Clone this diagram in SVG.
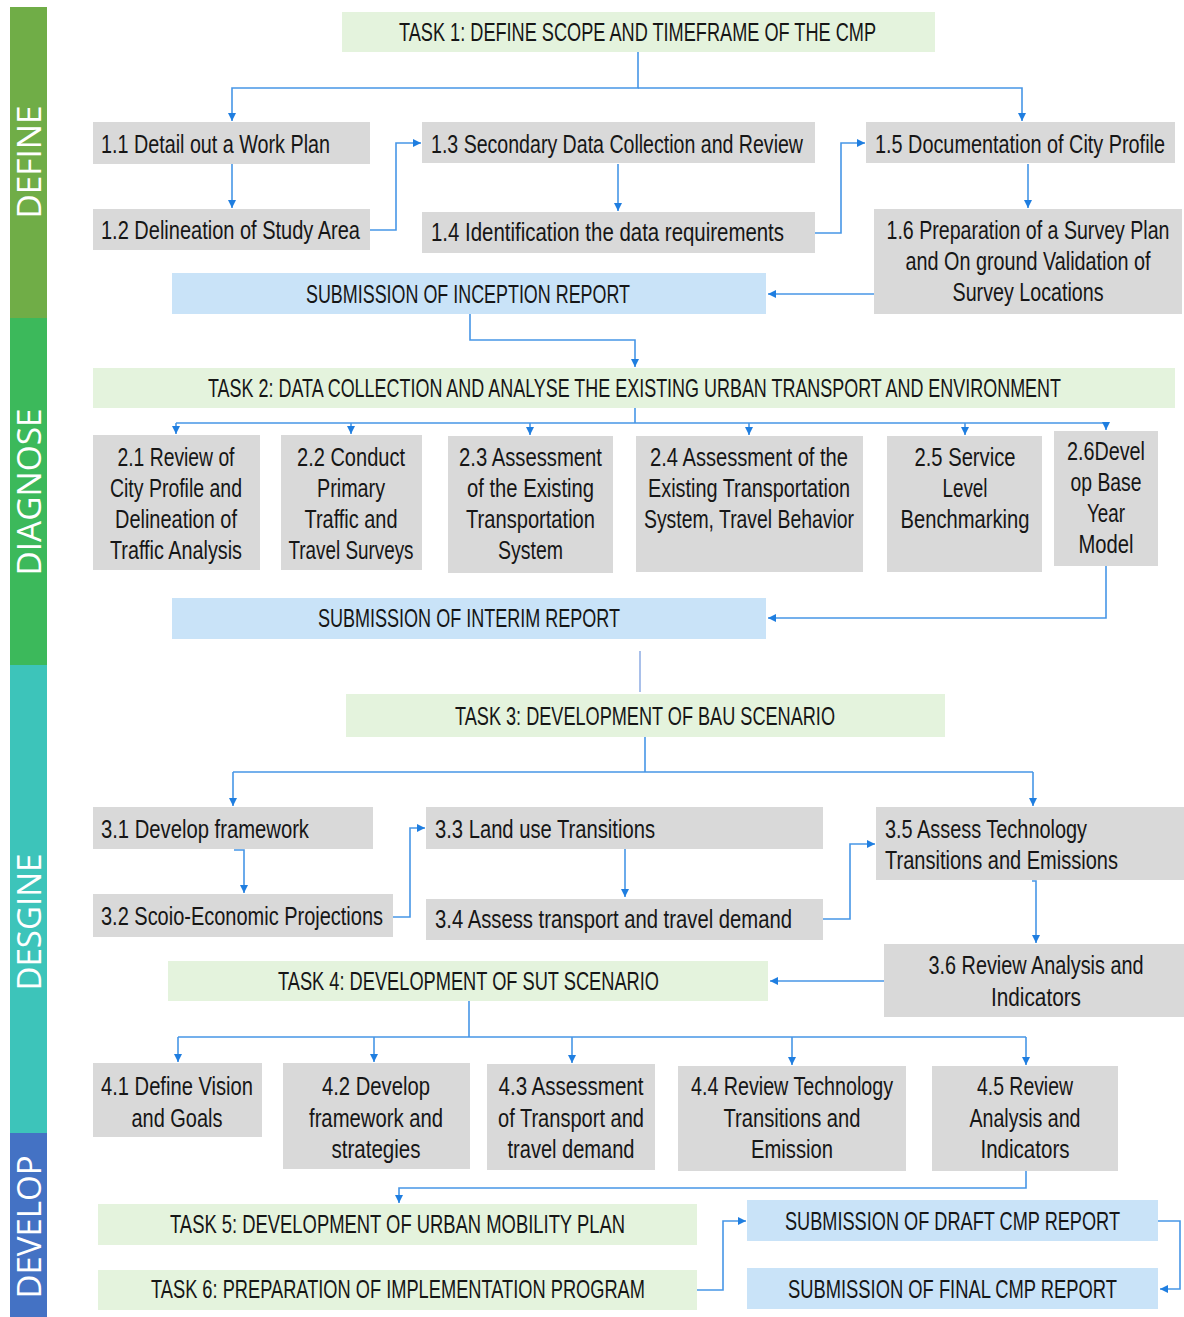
<svg xmlns="http://www.w3.org/2000/svg" width="1184" height="1317" viewBox="0 0 1184 1317">
  <defs>
    <marker id="arr" markerUnits="userSpaceOnUse" markerWidth="9" markerHeight="9" refX="8" refY="4.5" orient="auto">
      <path d="M0,0.5 L8,4.5 L0,8.5 z" fill="#1f7ee0"/>
    </marker>
    <style>
      .g { fill: #d9d9d9; }
      .t { fill: #e4f3dd; }
      .s { fill: #c9e3f8; }
      text { font-family: "Liberation Sans", Arial, sans-serif; font-size: 25px; fill: #161616; }
      .c { text-anchor: middle; }
      .band text { font-family: "Open Sans", "DejaVu Sans", sans-serif; font-size: 33px; fill: #ffffff; text-anchor: middle; }
      .ln { fill: none; stroke: #4796e6; stroke-width: 1.6; }
      .ln.a { marker-end: url(#arr); }
      .ln.soft { stroke: #a9c0ea; stroke-width: 2; }
    </style>
  </defs>

  <rect width="1184" height="1317" fill="#ffffff"/>

  <!-- phase bands -->
  <g class="band" id="phases">
    <rect x="10" y="7" width="37" height="311" fill="#70ad47"/>
    <rect x="10" y="318" width="37" height="347" fill="#3cb95b"/>
    <rect x="10" y="665" width="37" height="468" fill="#3dc4ba"/>
    <rect x="10" y="1133" width="37" height="184" fill="#4472c4"/>
    <text transform="translate(41,162) rotate(-90)" textLength="113" lengthAdjust="spacingAndGlyphs">DEFINE</text>
    <text transform="translate(41,492) rotate(-90)" textLength="167" lengthAdjust="spacingAndGlyphs">DIAGNOSE</text>
    <text transform="translate(41,922) rotate(-90)" textLength="137" lengthAdjust="spacingAndGlyphs">DESGINE</text>
    <text transform="translate(41,1227) rotate(-90)" textLength="143" lengthAdjust="spacingAndGlyphs">DEVELOP</text>
  </g>

  <!-- connectors -->
  <g id="connectors">
    <path class="ln a" d="M638,52 V88 H232 V121"/>
    <path class="ln a" d="M638,88 H1022 V121"/>
    <path class="ln a" d="M232,164 V208"/>
    <path class="ln a" d="M370,230 H396 V143 H421"/>
    <path class="ln a" d="M618,164 V211"/>
    <path class="ln a" d="M815,233 H841 V143 H865"/>
    <path class="ln a" d="M1028,164 V208"/>
    <path class="ln a" d="M874,294 H768"/>
    <path class="ln a" d="M470,314 V340 H635 V367"/>

    <path class="ln" d="M635,408 V423 M176,423 H1106"/>
    <path class="ln a" d="M176,423 V434"/>
    <path class="ln a" d="M351,423 V434"/>
    <path class="ln a" d="M530,423 V435"/>
    <path class="ln a" d="M749,423 V435"/>
    <path class="ln a" d="M965,423 V435"/>
    <path class="ln a" d="M1106,423 V430"/>
    <path class="ln a" d="M1106,566 V618 H768"/>
    <path class="ln soft" d="M640,651 V692"/>

    <path class="ln" d="M645,737 V772 M233,772 H1033"/>
    <path class="ln a" d="M233,772 V806"/>
    <path class="ln a" d="M1033,772 V806"/>
    <path class="ln a" d="M234,850 H244 V893"/>
    <path class="ln a" d="M393,917 H410 V828 H425"/>
    <path class="ln a" d="M625,849 V897"/>
    <path class="ln a" d="M823,919 H850 V844 H875"/>
    <path class="ln a" d="M1032,881 H1036 V943"/>
    <path class="ln a" d="M884,981 H770"/>

    <path class="ln" d="M469,1001 V1037 M178,1037 H1026"/>
    <path class="ln a" d="M178,1037 V1062"/>
    <path class="ln a" d="M374,1037 V1062"/>
    <path class="ln a" d="M572,1037 V1063"/>
    <path class="ln a" d="M792,1037 V1065"/>
    <path class="ln a" d="M1026,1037 V1065"/>
    <path class="ln a" d="M1026,1171 V1188 H399 V1203"/>
    <path class="ln a" d="M697,1290 H723 V1221 H746"/>
    <path class="ln a" d="M1158,1221 H1180 V1289 H1160"/>
  </g>

  <!-- labels use a 0.72 horizontal squeeze: x and textLength below are in the squeezed frame -->

  <!-- task 1 -->
  <g id="task1">
    <rect class="t" x="342" y="12" width="593" height="40"/>
    <text class="c" transform="scale(0.72,1)" x="885.42" y="41" textLength="662.5" lengthAdjust="spacingAndGlyphs">TASK 1: DEFINE SCOPE AND TIMEFRAME OF THE CMP</text>
  </g>
  <g id="n1-1">
    <rect class="g" x="93" y="122" width="277" height="42"/>
    <text transform="scale(0.72,1)" x="140.28" y="153" textLength="318.06" lengthAdjust="spacingAndGlyphs">1.1 Detail out a Work Plan</text>
  </g>
  <g id="n1-2">
    <rect class="g" x="93" y="209" width="277" height="41"/>
    <text transform="scale(0.72,1)" x="140.28" y="239" textLength="359.72" lengthAdjust="spacingAndGlyphs">1.2 Delineation of Study Area</text>
  </g>
  <g id="n1-3">
    <rect class="g" x="422" y="122" width="393" height="41"/>
    <text transform="scale(0.72,1)" x="598.61" y="153" textLength="516.67" lengthAdjust="spacingAndGlyphs">1.3 Secondary Data Collection and Review</text>
  </g>
  <g id="n1-4">
    <rect class="g" x="422" y="212" width="393" height="41"/>
    <text transform="scale(0.72,1)" x="598.61" y="241" textLength="490.28" lengthAdjust="spacingAndGlyphs">1.4 Identification the data requirements</text>
  </g>
  <g id="n1-5">
    <rect class="g" x="866" y="122" width="309" height="41"/>
    <text transform="scale(0.72,1)" x="1215.28" y="153" textLength="402.78" lengthAdjust="spacingAndGlyphs">1.5 Documentation of City Profile</text>
  </g>
  <g id="n1-6">
    <rect class="g" x="874" y="209" width="308" height="105"/>
    <text class="c" transform="scale(0.72,1)" x="1427.78" y="239" textLength="393.06" lengthAdjust="spacingAndGlyphs">1.6 Preparation of a Survey Plan</text>
    <text class="c" transform="scale(0.72,1)" x="1427.78" y="270" textLength="340.28" lengthAdjust="spacingAndGlyphs">and On ground Validation of</text>
    <text class="c" transform="scale(0.72,1)" x="1427.78" y="301" textLength="209.72" lengthAdjust="spacingAndGlyphs">Survey Locations</text>
  </g>
  <g id="inception">
    <rect class="s" x="172" y="273" width="594" height="41"/>
    <text class="c" transform="scale(0.72,1)" x="650" y="303" textLength="450" lengthAdjust="spacingAndGlyphs">SUBMISSION OF INCEPTION REPORT</text>
  </g>

  <!-- task 2 -->
  <g id="task2">
    <rect class="t" x="93" y="368" width="1082" height="40"/>
    <text class="c" transform="scale(0.72,1)" x="881.25" y="397" textLength="1184.72" lengthAdjust="spacingAndGlyphs">TASK 2: DATA COLLECTION AND ANALYSE THE EXISTING URBAN TRANSPORT AND ENVIRONMENT</text>
  </g>
  <g id="n2-1">
    <rect class="g" x="93" y="435" width="167" height="135"/>
    <text class="c" transform="scale(0.72,1)" x="244.44" y="466" textLength="162.5" lengthAdjust="spacingAndGlyphs">2.1 Review of</text>
    <text class="c" transform="scale(0.72,1)" x="244.44" y="497" textLength="183.33" lengthAdjust="spacingAndGlyphs">City Profile and</text>
    <text class="c" transform="scale(0.72,1)" x="244.44" y="528" textLength="169.44" lengthAdjust="spacingAndGlyphs">Delineation of</text>
    <text class="c" transform="scale(0.72,1)" x="244.44" y="559" textLength="183.33" lengthAdjust="spacingAndGlyphs">Traffic Analysis</text>
  </g>
  <g id="n2-2">
    <rect class="g" x="281" y="435" width="141" height="135"/>
    <text class="c" transform="scale(0.72,1)" x="487.5" y="466" textLength="150" lengthAdjust="spacingAndGlyphs">2.2 Conduct</text>
    <text class="c" transform="scale(0.72,1)" x="487.5" y="497" textLength="94.44" lengthAdjust="spacingAndGlyphs">Primary</text>
    <text class="c" transform="scale(0.72,1)" x="487.5" y="528" textLength="129.17" lengthAdjust="spacingAndGlyphs">Traffic and</text>
    <text class="c" transform="scale(0.72,1)" x="487.5" y="559" textLength="173.61" lengthAdjust="spacingAndGlyphs">Travel Surveys</text>
  </g>
  <g id="n2-3">
    <rect class="g" x="448" y="436" width="165" height="137"/>
    <text class="c" transform="scale(0.72,1)" x="736.81" y="466" textLength="198.61" lengthAdjust="spacingAndGlyphs">2.3 Assessment</text>
    <text class="c" transform="scale(0.72,1)" x="736.81" y="497" textLength="176.39" lengthAdjust="spacingAndGlyphs">of the Existing</text>
    <text class="c" transform="scale(0.72,1)" x="736.81" y="528" textLength="179.17" lengthAdjust="spacingAndGlyphs">Transportation</text>
    <text class="c" transform="scale(0.72,1)" x="736.81" y="559" textLength="90.28" lengthAdjust="spacingAndGlyphs">System</text>
  </g>
  <g id="n2-4">
    <rect class="g" x="636" y="436" width="227" height="136"/>
    <text class="c" transform="scale(0.72,1)" x="1040.28" y="466" textLength="275" lengthAdjust="spacingAndGlyphs">2.4 Assessment of the</text>
    <text class="c" transform="scale(0.72,1)" x="1040.28" y="497" textLength="280.56" lengthAdjust="spacingAndGlyphs">Existing Transportation</text>
    <text class="c" transform="scale(0.72,1)" x="1040.28" y="528" textLength="291.67" lengthAdjust="spacingAndGlyphs">System, Travel Behavior</text>
  </g>
  <g id="n2-5">
    <rect class="g" x="887" y="436" width="155" height="136"/>
    <text class="c" transform="scale(0.72,1)" x="1340.28" y="466" textLength="140.28" lengthAdjust="spacingAndGlyphs">2.5 Service</text>
    <text class="c" transform="scale(0.72,1)" x="1340.28" y="497" textLength="62.5" lengthAdjust="spacingAndGlyphs">Level</text>
    <text class="c" transform="scale(0.72,1)" x="1340.28" y="528" textLength="179.17" lengthAdjust="spacingAndGlyphs">Benchmarking</text>
  </g>
  <g id="n2-6">
    <rect class="g" x="1054" y="431" width="104" height="135"/>
    <text class="c" transform="scale(0.72,1)" x="1536.11" y="460" textLength="108.33" lengthAdjust="spacingAndGlyphs">2.6Devel</text>
    <text class="c" transform="scale(0.72,1)" x="1536.11" y="491" textLength="98.61" lengthAdjust="spacingAndGlyphs">op Base</text>
    <text class="c" transform="scale(0.72,1)" x="1536.11" y="522" textLength="52.78" lengthAdjust="spacingAndGlyphs">Year</text>
    <text class="c" transform="scale(0.72,1)" x="1536.11" y="553" textLength="76.39" lengthAdjust="spacingAndGlyphs">Model</text>
  </g>
  <g id="interim">
    <rect class="s" x="172" y="598" width="594" height="41"/>
    <text class="c" transform="scale(0.72,1)" x="651.39" y="627" textLength="419.44" lengthAdjust="spacingAndGlyphs">SUBMISSION OF INTERIM REPORT</text>
  </g>

  <!-- task 3 -->
  <g id="task3">
    <rect class="t" x="346" y="694" width="599" height="43"/>
    <text class="c" transform="scale(0.72,1)" x="895.83" y="725" textLength="527.78" lengthAdjust="spacingAndGlyphs">TASK 3: DEVELOPMENT OF BAU SCENARIO</text>
  </g>
  <g id="n3-1">
    <rect class="g" x="93" y="807" width="280" height="42"/>
    <text transform="scale(0.72,1)" x="140.28" y="838" textLength="288.89" lengthAdjust="spacingAndGlyphs">3.1 Develop framework</text>
  </g>
  <g id="n3-2">
    <rect class="g" x="93" y="894" width="300" height="43"/>
    <text transform="scale(0.72,1)" x="140.28" y="925" textLength="391.67" lengthAdjust="spacingAndGlyphs">3.2 Scoio-Economic Projections</text>
  </g>
  <g id="n3-3">
    <rect class="g" x="426" y="807" width="397" height="42"/>
    <text transform="scale(0.72,1)" x="604.17" y="838" textLength="305.56" lengthAdjust="spacingAndGlyphs">3.3 Land use Transitions</text>
  </g>
  <g id="n3-4">
    <rect class="g" x="426" y="899" width="397" height="41"/>
    <text transform="scale(0.72,1)" x="604.17" y="928" textLength="495.83" lengthAdjust="spacingAndGlyphs">3.4 Assess transport and travel demand</text>
  </g>
  <g id="n3-5">
    <rect class="g" x="876" y="807" width="308" height="73"/>
    <text transform="scale(0.72,1)" x="1229.17" y="838" textLength="280.56" lengthAdjust="spacingAndGlyphs">3.5 Assess Technology</text>
    <text transform="scale(0.72,1)" x="1229.17" y="869" textLength="323.61" lengthAdjust="spacingAndGlyphs">Transitions and Emissions</text>
  </g>
  <g id="n3-6">
    <rect class="g" x="884" y="944" width="300" height="73"/>
    <text class="c" transform="scale(0.72,1)" x="1438.89" y="974" textLength="298.61" lengthAdjust="spacingAndGlyphs">3.6 Review Analysis and</text>
    <text class="c" transform="scale(0.72,1)" x="1438.89" y="1006" textLength="125" lengthAdjust="spacingAndGlyphs">Indicators</text>
  </g>

  <!-- task 4 -->
  <g id="task4">
    <rect class="t" x="168" y="961" width="600" height="40"/>
    <text class="c" transform="scale(0.72,1)" x="650.69" y="990" textLength="529.17" lengthAdjust="spacingAndGlyphs">TASK 4: DEVELOPMENT OF SUT SCENARIO</text>
  </g>
  <g id="n4-1">
    <rect class="g" x="93" y="1063" width="169" height="74"/>
    <text class="c" transform="scale(0.72,1)" x="245.83" y="1095" textLength="211.11" lengthAdjust="spacingAndGlyphs">4.1 Define Vision</text>
    <text class="c" transform="scale(0.72,1)" x="245.83" y="1127" textLength="126.39" lengthAdjust="spacingAndGlyphs">and Goals</text>
  </g>
  <g id="n4-2">
    <rect class="g" x="283" y="1063" width="187" height="106"/>
    <text class="c" transform="scale(0.72,1)" x="522.22" y="1095" textLength="150" lengthAdjust="spacingAndGlyphs">4.2 Develop</text>
    <text class="c" transform="scale(0.72,1)" x="522.22" y="1127" textLength="186.11" lengthAdjust="spacingAndGlyphs">framework and</text>
    <text class="c" transform="scale(0.72,1)" x="522.22" y="1158" textLength="123.61" lengthAdjust="spacingAndGlyphs">strategies</text>
  </g>
  <g id="n4-3">
    <rect class="g" x="487" y="1064" width="168" height="106"/>
    <text class="c" transform="scale(0.72,1)" x="793.06" y="1095" textLength="201.39" lengthAdjust="spacingAndGlyphs">4.3 Assessment</text>
    <text class="c" transform="scale(0.72,1)" x="793.06" y="1127" textLength="202.78" lengthAdjust="spacingAndGlyphs">of Transport and</text>
    <text class="c" transform="scale(0.72,1)" x="793.06" y="1158" textLength="176.39" lengthAdjust="spacingAndGlyphs">travel demand</text>
  </g>
  <g id="n4-4">
    <rect class="g" x="678" y="1066" width="228" height="105"/>
    <text class="c" transform="scale(0.72,1)" x="1100" y="1095" textLength="280.56" lengthAdjust="spacingAndGlyphs">4.4 Review Technology</text>
    <text class="c" transform="scale(0.72,1)" x="1100" y="1127" textLength="190.28" lengthAdjust="spacingAndGlyphs">Transitions and</text>
    <text class="c" transform="scale(0.72,1)" x="1100" y="1158" textLength="113.89" lengthAdjust="spacingAndGlyphs">Emission</text>
  </g>
  <g id="n4-5">
    <rect class="g" x="932" y="1066" width="186" height="105"/>
    <text class="c" transform="scale(0.72,1)" x="1423.61" y="1095" textLength="133.33" lengthAdjust="spacingAndGlyphs">4.5 Review</text>
    <text class="c" transform="scale(0.72,1)" x="1423.61" y="1127" textLength="154.17" lengthAdjust="spacingAndGlyphs">Analysis and</text>
    <text class="c" transform="scale(0.72,1)" x="1423.61" y="1158" textLength="123.61" lengthAdjust="spacingAndGlyphs">Indicators</text>
  </g>

  <!-- tasks 5 and 6, reports -->
  <g id="task5">
    <rect class="t" x="98" y="1204" width="599" height="41"/>
    <text class="c" transform="scale(0.72,1)" x="552.08" y="1233" textLength="631.94" lengthAdjust="spacingAndGlyphs">TASK 5: DEVELOPMENT OF URBAN MOBILITY PLAN</text>
  </g>
  <g id="task6">
    <rect class="t" x="98" y="1270" width="599" height="40"/>
    <text class="c" transform="scale(0.72,1)" x="552.78" y="1298" textLength="686.11" lengthAdjust="spacingAndGlyphs">TASK 6: PREPARATION OF IMPLEMENTATION PROGRAM</text>
  </g>
  <g id="draft">
    <rect class="s" x="747" y="1200" width="411" height="41"/>
    <text class="c" transform="scale(0.72,1)" x="1322.92" y="1230" textLength="465.28" lengthAdjust="spacingAndGlyphs">SUBMISSION OF DRAFT CMP REPORT</text>
  </g>
  <g id="final">
    <rect class="s" x="747" y="1268" width="411" height="41"/>
    <text class="c" transform="scale(0.72,1)" x="1322.92" y="1298" textLength="456.94" lengthAdjust="spacingAndGlyphs">SUBMISSION OF FINAL CMP REPORT</text>
  </g>
</svg>
